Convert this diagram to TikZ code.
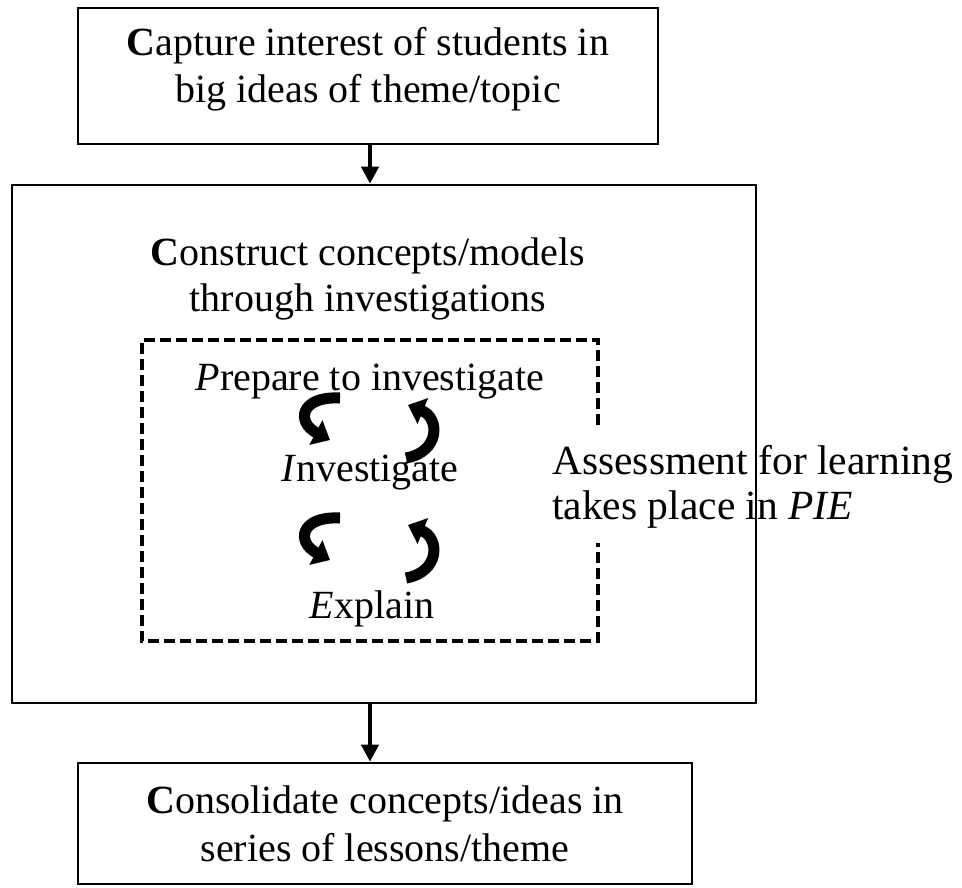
\documentclass[tikz,border=0pt]{standalone}
\usepackage{fontspec}
\setmainfont{Liberation Serif}
\usetikzlibrary{arrows.meta}
\tikzset{
  box/.style={draw=black, line width=2.6pt, inner sep=0pt},
  txt/.style={inner sep=0pt, anchor=base, font=\fontsize{40}{47}\selectfont},
  arr/.style={line width=4pt, -{Triangle[width=17pt,length=17pt]}},
  cyc/.style={line width=11pt, -{Triangle[width=27pt,length=16pt]}},
  dashbox/.style={line width=3.5pt, dash pattern=on 11pt off 5pt},
}
\begin{document}
\begin{tikzpicture}[x=1pt,y=-1pt]
\useasboundingbox (0,0) rectangle (962,887);
% boxes
\node[box, minimum width=580pt, minimum height=136pt] (top) at (368,76) {};
\node[box, minimum width=744pt, minimum height=518pt] (big) at (384,444) {};
\node[box, minimum width=614pt, minimum height=121pt] (bot) at (385,823.5) {};
% texts
\node[txt] (t1) at (368,55) {\textbf{C}apture interest of students in};
\node[txt] (t2) at (368,102) {big ideas of theme/topic};
\node[txt] (c1) at (368,265) {\textbf{C}onstruct concepts/models};
\node[txt] (c2) at (368,311) {through investigations};
\node[txt] (prep) at (370,390) {\textit{P}repare to investigate};
\node[txt] (inv) at (370,481) {\textit{I}nvestigate};
\node[txt] (expl) at (372,618) {\textit{E}xplain};
\node[txt, anchor=base west, font=\fontsize{41.5}{47}\selectfont] (as1) at (552,474) {Assessment for learning};
\node[txt, anchor=base west, font=\fontsize{41.5}{47}\selectfont] (as2) at (552,519) {takes place in \textit{PIE}};
\node[txt] (b1) at (385,813) {\textbf{C}onsolidate concepts/ideas in};
\node[txt] (b2) at (385,861) {series of lessons/theme};
% dashed frame with gap
\draw[dashbox] (598,425) -- (598,340) -- (142,340) -- (142,641) -- (598,641) -- (598,543);
% connectors
\draw[arr] (top.south -| 370,0) -- (big.north -| 370,0);
\draw[arr] (big.south -| 370,0) -- (bot.north -| 370,0);
% cycle arrows
\coordinate (l1s) at (340,398);
\coordinate (l1e) at (330,440);
\coordinate (r1s) at (406,458);
\coordinate (r1e) at (408,405);
\coordinate (l2s) at (340,518);
\coordinate (l2e) at (330,560);
\coordinate (r2s) at (406,578);
\coordinate (r2e) at (408,525);
\draw[cyc] (l1s) .. controls (300,396) and (296,422) .. (l1e);
\draw[cyc] (r1s) .. controls (440,452) and (440,418) .. (r1e);
\draw[cyc] (l2s) .. controls (300,516) and (296,542) .. (l2e);
\draw[cyc] (r2s) .. controls (440,572) and (440,538) .. (r2e);
\end{tikzpicture}
\end{document}
